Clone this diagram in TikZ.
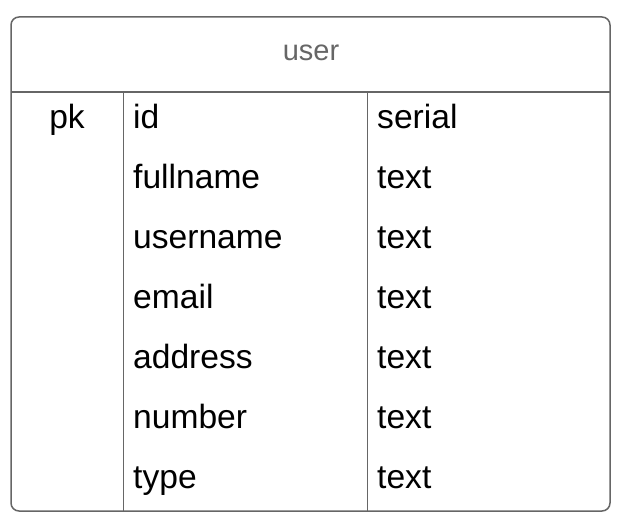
\documentclass[tikz,border=0pt]{standalone}
\usepackage{fontspec}
\setmainfont{Liberation Sans}
\definecolor{bordergrey}{HTML}{666666}
\definecolor{titlegrey}{HTML}{666666}
\begin{document}
\begin{tikzpicture}[x=1pt,y=-1pt,
  cell/.style={inner sep=0pt,anchor=base west,font=\fontsize{33.6}{40}\selectfont,text=black},
  pkcell/.style={inner sep=0pt,anchor=base,font=\fontsize{33.6}{40}\selectfont,text=black},
  title/.style={inner sep=0pt,anchor=base,font=\fontsize{29}{35}\selectfont,text=titlegrey},
  outer/.style={draw=bordergrey,line width=1.5pt,rounded corners=8pt},
  divider/.style={draw=bordergrey,line width=1.5pt},
  colline/.style={draw=bordergrey,line width=1pt}]
\useasboundingbox (0,0) rectangle (621,521);
\draw[outer] (11,17) rectangle (610,511);
\draw[divider] (11,92) -- (610,92);
\draw[colline] (123,92) -- (123,511);
\draw[colline] (367,92) -- (367,511);
\node[title] (t) at (311,61) {user};
\node[pkcell] (pk) at (67,128.5) {pk};
\foreach \n/\a/\b [count=\i from 0] in {id/id/serial,fn/fullname/text,un/username/text,em/email/text,ad/address/text,nu/number/text,ty/type/text}{
  \node[cell] (\n-name) at (133,128.5+60*\i) {\a};
  \node[cell] (\n-type) at (377,128.5+60*\i) {\b};
}
\end{tikzpicture}
\end{document}
